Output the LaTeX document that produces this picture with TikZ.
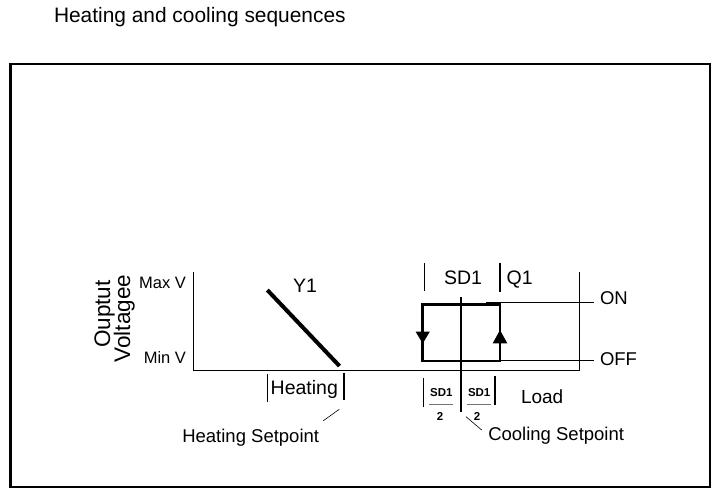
\documentclass[tikz,border=0pt]{standalone}
\usepackage{fontspec}
\setmainfont{Liberation Sans}
\begin{document}
\begin{tikzpicture}[x=1pt,y=-1pt,
  lbl/.style={inner sep=0pt,outer sep=0pt,font=\fontsize{18.5}{20}\selectfont},
  small/.style={inner sep=0pt,outer sep=0pt,font=\fontsize{16.5}{18}\selectfont},
  frac/.style={inner sep=0pt,outer sep=0pt,font=\fontsize{11.5}{12}\selectfont\bfseries},
  axis/.style={line width=1pt,black},
  tick/.style={line width=1.6pt,black},
  thin/.style={line width=0.6pt,black},
  loopline/.style={line width=2.6pt,black,line join=miter},
  tri/.style={fill=black,draw=none}]
\useasboundingbox (0,0) rectangle (714,491);
% title
\node[lbl,anchor=base west,font=\fontsize{20.9}{22}\selectfont] (title) at (54,22.7) {Heating and cooling sequences};
% frame
\draw[line width=2.6pt] (10.5,64) rectangle (710,487);
% axes
\coordinate (ytop) at (193,272);
\coordinate (orig) at (193,370);
\coordinate (xend) at (579,370);
\coordinate (rtop) at (579,272);
\draw[axis] (ytop) -- (orig) -- (xend) -- (rtop);
% axis labels
\node[small,anchor=base east] (maxv) at (186,288) {Max V};
\node[small,anchor=base east] (minv) at (186,363.3) {Min V};
\node[lbl,font=\fontsize{22.5}{24}\selectfont,anchor=base,rotate=90] (ouptut) at (110,314) {Ouptut};
\node[lbl,font=\fontsize{22.5}{24}\selectfont,anchor=base,rotate=90] (voltagee) at (130,318.5) {Voltagee};
% Y1 line
\coordinate (y1a) at (267.3,290);
\coordinate (y1b) at (339.5,366);
\draw[line width=4pt] (y1a) -- (y1b);
\node[lbl,font=\fontsize{19.5}{21}\selectfont,anchor=base west] (y1) at (293,292.7) {Y1};
% Heating band
\coordinate (h1a) at (267.3,374); \coordinate (h1b) at (267.3,401.7);
\coordinate (h2a) at (343.7,372.7); \coordinate (h2b) at (343.7,400);
\draw[line width=0.9pt] (h1a) -- (h1b);
\draw[line width=2pt] (h2a) -- (h2b);
\node[lbl,font=\fontsize{19.5}{21}\selectfont,anchor=base west] (heating) at (270.7,394) {Heating};
\coordinate (hl1) at (339.3,409.3); \coordinate (hl2) at (323.3,420.7);
\draw[thin] (hl1) -- (hl2);
\node[lbl,anchor=base west] (hsp) at (182.3,442.7) {Heating Setpoint};
% SD1 hysteresis loop
\coordinate (bl) at (422.7,361); \coordinate (tl) at (422.7,304.3);
\coordinate (tr) at (500,304.3); \coordinate (br) at (500,361);
\draw[loopline] (bl) -- (tl) -- (tr) -- (br) -- cycle;
\fill[tri] (422.7,343.5) -- (415.5,331.5) -- (429.9,331.5) -- cycle;
\fill[tri] (500,330) -- (492.7,343.3) -- (507.3,343.3) -- cycle;
% centre line
\coordinate (ca) at (461,297); \coordinate (cb) at (461,411.7);
\draw[line width=1.6pt] (ca) -- (cb);
% ticks above
\coordinate (t1a) at (424.3,263); \coordinate (t1b) at (424.3,291);
\coordinate (t2a) at (500,263); \coordinate (t2b) at (500,292);
\draw[tick] (t1a) -- (t1b);
\draw[tick] (t2a) -- (t2b);
\node[lbl,font=\fontsize{19.5}{21}\selectfont,anchor=base] (sd1) at (463,284.3) {SD1};
\node[lbl,font=\fontsize{19.5}{21}\selectfont,anchor=base west] (q1) at (506.7,284.3) {Q1};
% ON / OFF
\coordinate (on1) at (486,302.5); \coordinate (on2) at (594,302.5);
\coordinate (off1) at (500,360); \coordinate (off2) at (594,360);
\draw[axis] (on1) -- (on2);
\draw[axis] (off1) -- (off2);
\node[lbl,anchor=base west] (on) at (600,304) {ON};
\node[lbl,anchor=base west] (off) at (600,365) {OFF};
% fractions
\coordinate (f1a) at (423.3,378.3); \coordinate (f1b) at (423.3,406.7);
\coordinate (f2a) at (495,376); \coordinate (f2b) at (495,405);
\draw[tick] (f1a) -- (f1b);
\draw[tick] (f2a) -- (f2b);
\node[frac,anchor=base] (n1) at (441.3,396.7) {SD1};
\node[frac,anchor=base] (n2) at (479.2,396.7) {SD1};
\coordinate (b1a) at (429.3,404); \coordinate (b1b) at (453.3,404);
\coordinate (b2a) at (467.3,404); \coordinate (b2b) at (491.1,404);
\draw[line width=1pt,black!55] (b1a) -- (b1b);
\draw[line width=1pt,black!55] (b2a) -- (b2b);
\node[frac,anchor=base] (d1) at (440,420.7) {2};
\node[frac,anchor=base] (d2) at (477,420.7) {2};
\node[lbl,font=\fontsize{19}{21}\selectfont,anchor=base west] (load) at (521,403.3) {Load};
\coordinate (cl1) at (466,416.7); \coordinate (cl2) at (481.7,430);
\draw[thin] (cl1) -- (cl2);
\node[lbl,anchor=base west] (csp) at (488.3,440) {Cooling Setpoint};
\end{tikzpicture}
\end{document}
